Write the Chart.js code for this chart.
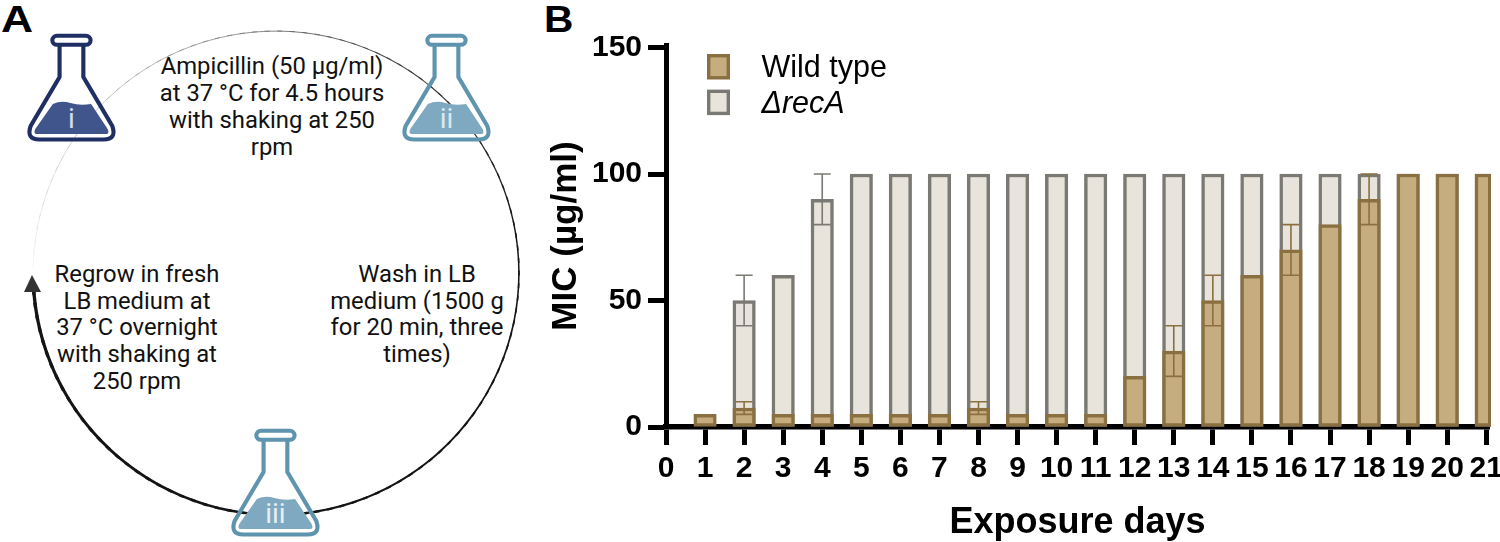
<!DOCTYPE html>
<html><head><meta charset="utf-8">
<script src="https://cdn.jsdelivr.net/npm/chart.js@4/dist/chart.umd.min.js"></script>
<style>
html,body{margin:0;padding:0;background:#fff;width:1500px;height:542px;overflow:hidden}
#panel{position:absolute;left:0;top:0}
#wrap{position:absolute;left:540px;top:0;width:960px;height:542px}
</style></head><body>
<svg id="panel" width="1500" height="542" xmlns="http://www.w3.org/2000/svg"></svg>
<div id="wrap"><canvas id="c" width="960" height="542"></canvas></div>
<script>
// ---- data ----
const days = [1,2,3,4,5,6,7,8,9,10,11,12,13,14,15,16,17,18,19,20,21];
const tickDays = [0,1,2,3,4,5,6,7,8,9,10,11,12,13,14,15,16,17,18,19,20,21];
const wildType = [5,7.5,5,5,5,5,5,7.5,5,5,5,20,30,50,60,70,80,90,100,100,100];
const recA = [null,50,60,90,100,100,100,100,100,100,100,100,100,100,100,100,100,100,100,100,100];
const wildErr = [0,2.5,0,0,0,0,0,2.5,0,0,0,0,10,10,0,10,0,10,0,0,0];
const recAErr = [0,10,0,10,0,0,0,0,0,0,0,0,0,0,0,0,0,0,0,0,0];
const yTicks = [0,50,100,150];
const seriesNames = ['Wild type','ΔrecA'];
const yTitle = 'MIC (µg/ml)';
const xTitle = 'Exposure days';
const stepText = [
  {x:272,y:[74,101,128,155],lines:['Ampicillin (50 µg/ml)','at 37 °C for 4.5 hours','with shaking at 250','rpm']},
  {x:137,y:[282,308.5,335,362,389],lines:['Regrow in fresh','LB medium at','37 °C overnight','with shaking at','250 rpm']},
  {x:417,y:[282,308.5,335,362],lines:['Wash in LB','medium (1500 g','for 20 min, three','times)']}
];
const flasks = [
  {x:27,y:34,label:'i',stroke:'#1f2f63',fill:'#40558c',text:'#d5dcec'},
  {x:402,y:34,label:'ii',stroke:'#5f94ae',fill:'#7fa9c0',text:'#dbe8ef'},
  {x:231,y:429,label:'iii',stroke:'#5f94ae',fill:'#7fa9c0',text:'#e6eff4'}
];

// ---- colours ----
const wtFill='#c6ad80', wtLine='#8a7040', raFill='#e8e4dc', raLine='#7b7973';

// ---- panel A + letters (SVG) ----
const NS='http://www.w3.org/2000/svg', svg=document.getElementById('panel');
function el(n,a,t,p){const e=document.createElementNS(NS,n);for(const k in a)e.setAttribute(k,a[k]);if(t!=null)e.textContent=t;(p||svg).appendChild(e);return e;}
el('text',{transform:'translate(1 32) scale(1.2 1)','font-family':'Liberation Sans','font-weight':700,'font-size':37},'A');
el('text',{transform:'translate(544 32) scale(1.1 1)','font-family':'Liberation Sans','font-weight':700,'font-size':37},'B');
// tapered cycle ring: from the arrow head clockwise
const cx=276,cy=273,rx=243,ry=242,N=120;
for(let i=0;i<N;i++){
  const t0=i/N,t1=(i+1.4)/N;
  const a0=Math.PI+0.02+t0*(2*Math.PI-0.06),a1=Math.PI+0.02+Math.min(t1,1)*(2*Math.PI-0.06);
  const w=0.5+2.9*Math.pow(t0,1.5);
  const g=Math.round(215*Math.pow(Math.max(0,1-t0*2.1),1.2)+20);
  el('path',{d:`M${cx+rx*Math.cos(a0)} ${cy+ry*Math.sin(a0)}L${cx+rx*Math.cos(a1)} ${cy+ry*Math.sin(a1)}`,fill:'none',stroke:`rgb(${g},${g},${g})`,'stroke-width':w});
}
el('path',{d:'M32 275L41 292L24 292Z',fill:'#333'});
stepText.forEach(b=>b.lines.forEach((l,i)=>el('text',{x:b.x,y:b.y[i],'text-anchor':'middle','font-family':'Roboto','font-size':23.8,fill:'#111'},l)));
flasks.forEach(f=>{
  const g=el('g',{transform:`translate(${f.x} ${f.y}) scale(1.034 1)`});
  el('path',{d:'M9 100Q6 99.5 8 95L25 70Q33 66 42 69T62 70L78 95Q80 99.5 77 100Z',fill:f.fill},null,g);
  el('path',{d:'M31.5 11V43L3.5 92Q-1 105.5 12 105.5H74Q87 105.5 82.5 92L54.5 43V11',fill:'none',stroke:f.stroke,'stroke-width':4,'stroke-linejoin':'round'},null,g);
  el('rect',{x:24.5,y:1.8,width:37,height:9,rx:4.5,fill:'none',stroke:f.stroke,'stroke-width':4},null,g);
  el('text',{x:43,y:94,'text-anchor':'middle','font-family':'Roboto','font-weight':400,'font-size':27,fill:f.text},f.label,g);
});

// ---- plugins ----
const errorBars={id:'errorBars',afterDatasetsDraw(ch){
  const {ctx,scales:{x,y}}=ch;
  const draw=(vals,errs,col)=>{
    ctx.save();ctx.strokeStyle=col;ctx.lineWidth=1.6;
    vals.forEach((v,i)=>{const e=errs[i];if(!e)return;
      const px=x.getPixelForValue(days[i]),hi=y.getPixelForValue(v+e),lo=y.getPixelForValue(v-e);
      ctx.beginPath();ctx.moveTo(px,hi);ctx.lineTo(px,lo);
      ctx.moveTo(px-8.5,hi);ctx.lineTo(px+8.5,hi);
      ctx.moveTo(px-8.5,lo);ctx.lineTo(px+8.5,lo);ctx.stroke();});
    ctx.restore();};
  draw(recA,recAErr,raLine);
  draw(wildType,wildErr,wtLine);
  // right edge of the cropped last bar
  const m=ch.getDatasetMeta(0),b=m.data[m.data.length-1];
  ctx.save();ctx.fillStyle=wtLine;ctx.fillRect(ch.chartArea.right-1,b.y,3,b.base-b.y);ctx.restore();
}};
const fixedLegend={id:'fixedLegend',afterDraw(ch){
  const ctx=ch.ctx,off=167;
  ch.data.datasets.forEach((d,i)=>{
    const top=54+i*35.6;
    ctx.fillStyle=d.borderColor;ctx.fillRect(off,top,23,25.5);
    ctx.fillStyle=d.backgroundColor;ctx.fillRect(off+3.4,top+3.4,16.2,18.7);
    ctx.fillStyle='#000';ctx.textAlign='left';ctx.textBaseline='alphabetic';
    ctx.font=(i===1?'italic ':'')+'30.5px "Liberation Sans"';
    ctx.fillText(d.label,221.5,top+23);
  });
}};

// ---- chart ----
const bold=s=>({family:'"Liberation Sans"',weight:'bold',size:s});
new Chart(document.getElementById('c'),{
  type:'bar',
  data:{labels:days,datasets:[
    {label:seriesNames[0],data:wildType,backgroundColor:wtFill,borderColor:wtLine},
    {label:seriesNames[1],data:recA,backgroundColor:raFill,borderColor:raLine}
  ].map(d=>({...d,grouped:false,barThickness:22.5,borderWidth:3.5,borderSkipped:false,clip:{left:0,top:5,right:2,bottom:0}}))},
  options:{
    responsive:false,animation:false,
    layout:{padding:{left:0,right:11,top:45,bottom:0}},
    plugins:{legend:{display:false},tooltip:{enabled:false}},
    scales:{
      x:{type:'linear',min:0,max:21.07,offset:false,
        afterBuildTicks(s){s.ticks=tickDays.map(v=>({value:v}));},
        afterFit(s){s.height=115;s.paddingLeft=0;s.paddingRight=0;},
        ticks:{autoSkip:false,maxRotation:0,color:'#000',font:bold(30),padding:5.5,callback:v=>String(v)},
        grid:{drawOnChartArea:false,tickLength:18,tickWidth:5,tickColor:'#000',offset:false},
        border:{display:true,color:'#000',width:5.5},
        title:{display:true,text:xTitle,color:'#000',font:bold(36),padding:{top:0,bottom:-3}}
      },
      y:{min:0,max:151,
        afterBuildTicks(s){s.ticks=yTicks.map(v=>({value:v}));},
        afterFit(s){s.width=126;s.paddingTop=0;s.paddingBottom=0;},
        ticks:{color:'#000',font:bold(30),padding:6,callback:v=>String(v)},
        grid:{drawOnChartArea:false,tickLength:18,tickWidth:5,tickColor:'#000'},
        border:{display:true,color:'#000',width:5},
        title:{display:true,text:yTitle,color:'#000',font:bold(35),padding:{top:5,bottom:0}}
      }
    }
  },
  plugins:[errorBars,fixedLegend]
});
</script></body></html>
